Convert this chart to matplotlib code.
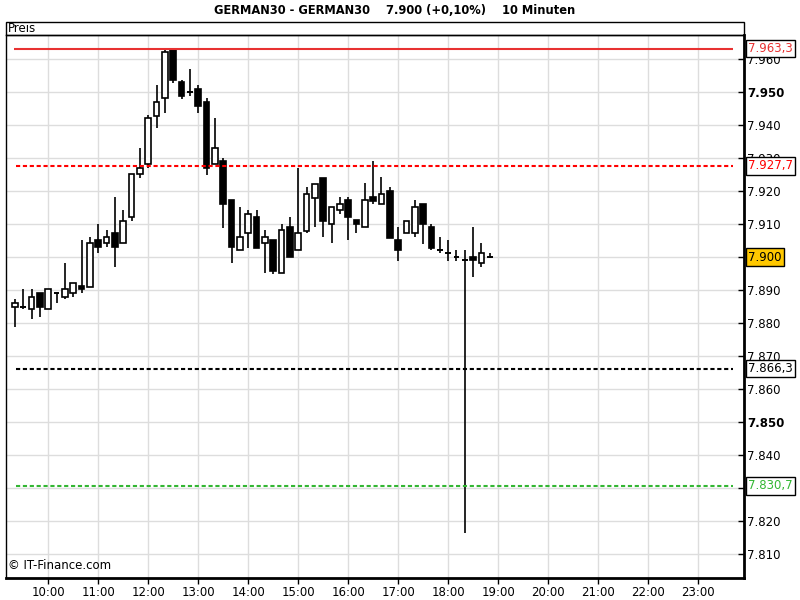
import matplotlib
matplotlib.use("Agg")
import matplotlib.pyplot as plt
from matplotlib.patches import Rectangle

plt.rcParams['font.family'] = ['DejaVu Sans']

times = ["09:20", "09:30", "09:40", "09:50", "10:00", "10:10", "10:20", "10:30", "10:40", "10:50",
         "11:00", "11:10", "11:20", "11:30", "11:40", "11:50", "12:00", "12:10", "12:20", "12:30",
         "12:40", "12:50", "13:00", "13:10", "13:20", "13:30", "13:40", "13:50", "14:00", "14:10",
         "14:20", "14:30", "14:40", "14:50", "15:00", "15:10", "15:20", "15:30", "15:40", "15:50",
         "16:00", "16:10", "16:20", "16:30", "16:40", "16:50", "17:00", "17:10", "17:20", "17:30",
         "17:40", "17:50", "18:00", "18:10", "18:20", "18:30", "18:40", "18:50"]

opens = [7885.0, 7885.0, 7884.2, 7889.1, 7884.2, 7889.1, 7888.1, 7889.1, 7891.3, 7891.1,
         7905.2, 7904.2, 7907.3, 7904.2, 7912.1, 7925.2, 7928.2, 7942.9, 7948.2, 7963.3,
         7953.2, 7950.0, 7951.0, 7947.0, 7928.2, 7929.2, 7917.4, 7902.2, 7907.3, 7912.1,
         7904.2, 7905.2, 7895.2, 7909.1, 7902.2, 7908.1, 7918.1, 7924.2, 7910.0, 7914.3,
         7917.4, 7911.3, 7909.1, 7918.2, 7916.1, 7920.1, 7905.2, 7907.3, 7907.3, 7916.2,
         7909.1, 7902.2, 7901.2, 7900.2, 7899.2, 7900.2, 7898.2, 7900.0]
highs = [7887.3, 7890.3, 7890.3, 7889.1, 7890.3, 7889.1, 7898.2, 7892.1, 7905.2, 7906.1,
         7910.1, 7908.3, 7918.2, 7914.3, 7925.2, 7933.0, 7943.1, 7952.2, 7963.3, 7963.3,
         7953.9, 7957.0, 7952.2, 7948.2, 7942.1, 7930.0, 7917.4, 7915.2, 7914.3, 7914.3,
         7908.3, 7905.2, 7910.1, 7912.1, 7927.0, 7921.4, 7922.2, 7924.2, 7915.2, 7918.2,
         7918.2, 7911.3, 7922.4, 7929.2, 7924.4, 7921.4, 7909.1, 7911.1, 7917.4, 7916.2,
         7910.1, 7906.1, 7905.2, 7902.2, 7902.2, 7909.1, 7904.2, 7901.2]
lows = [7879.0, 7884.2, 7881.2, 7882.0, 7884.2, 7886.1, 7887.3, 7888.1, 7889.1, 7891.1,
        7901.2, 7903.0, 7897.2, 7904.2, 7911.1, 7924.1, 7927.0, 7939.1, 7943.8, 7952.9,
        7948.0, 7949.0, 7943.8, 7925.0, 7928.2, 7909.0, 7898.2, 7902.2, 7902.9, 7902.9,
        7895.2, 7894.9, 7895.2, 7900.2, 7902.2, 7907.3, 7909.3, 7906.1, 7904.2, 7913.0,
        7905.2, 7907.3, 7909.1, 7916.1, 7916.1, 7905.9, 7899.0, 7907.3, 7906.1, 7904.0,
        7902.2, 7901.2, 7899.0, 7899.0, 7816.4, 7894.1, 7897.2, 7899.8]
closes = [7886.1, 7885.0, 7888.1, 7885.0, 7890.3, 7889.1, 7890.3, 7892.1, 7890.3, 7904.2,
          7903.0, 7906.1, 7903.0, 7911.1, 7925.2, 7927.0, 7942.1, 7947.0, 7962.1, 7953.7,
          7949.0, 7950.0, 7945.9, 7927.0, 7933.0, 7916.1, 7903.0, 7906.1, 7913.0, 7902.9,
          7906.1, 7896.0, 7908.3, 7900.2, 7907.3, 7919.1, 7922.2, 7911.1, 7915.2, 7916.2,
          7912.1, 7910.0, 7917.4, 7917.2, 7919.1, 7905.9, 7902.2, 7911.1, 7915.2, 7910.0,
          7902.9, 7902.2, 7901.2, 7900.2, 7899.2, 7899.2, 7901.2, 7900.0]

level_values = [7963.3, 7927.7, 7866.3, 7830.7]
level_labels = ["7.963,3", "7.927,7", "7.866,3", "7.830,7"]
level_colors = ["#e83232", "#ff0000", "#000000", "#33b633"]
level_styles = ["solid", "dashed", "dashed", "dashed"]

last_price = 7900.0
last_label = "7.900"

hour_ticks = [10, 11, 12, 13, 14, 15, 16, 17, 18, 19, 20, 21, 22, 23]
hour_labels = ["10:00", "11:00", "12:00", "13:00", "14:00", "15:00", "16:00",
               "17:00", "18:00", "19:00", "20:00", "21:00", "22:00", "23:00"]
price_ticks = [7810, 7820, 7830, 7840, 7850, 7860, 7870, 7880, 7890, 7900,
               7910, 7920, 7930, 7940, 7950, 7960]
hidden_tick_labels = [7830, 7900]   # fully covered by value boxes in the reference

title = "GERMAN30 - GERMAN30    7.900 (+0,10%)    10 Minuten"

W, H = 800, 600
fig = plt.figure(figsize=(8, 6), dpi=100)
ax_l, ax_r, ax_t, ax_b = 6, 744, 35, 578
ax = fig.add_axes([ax_l / W, (H - ax_b) / H, (ax_r - ax_l) / W, (ax_b - ax_t) / H])

x = [int(t[:2]) + int(t[3:]) / 60 for t in times]
slot = 10 / 60
bw = slot * 0.68

ax.set_xlim(9.154, 23.92)
ax.set_ylim(7802.8, 7967.4)

# grid
for h in hour_ticks:
    ax.axvline(h, color="#dddddd", lw=1, zorder=0)
for p in price_ticks:
    ax.axhline(p, color="#dddddd", lw=1, zorder=0)

# candles
for xi, o, hi, lo, c in zip(x, opens, highs, lows, closes):
    ax.vlines(xi, lo, hi, color="black", lw=1.2, zorder=2)
    if abs(c - o) < 0.05:
        ax.hlines(o, xi - bw / 2, xi + bw / 2, color="black", lw=1.4, zorder=3)
    else:
        fc = "white" if c > o else "black"
        ax.add_patch(Rectangle((xi - bw / 2, min(o, c)), bw, abs(c - o),
                               facecolor=fc, edgecolor="black", lw=1.2, zorder=3))

# levels
x_start = [9.31, 9.36, 9.36, 9.36]
for v, col, st, xs in zip(level_values, level_colors, level_styles, x_start):
    if st == "solid":
        ax.hlines(v, xs, 23.70, color=col, lw=1.5, zorder=4)
    else:
        ax.hlines(v, xs, 23.70, color=col, lw=1.5, linestyles=(0, (2.0, 1.3)), zorder=4)

# spines
for s in ["left", "top"]:
    ax.spines[s].set_linewidth(1.0)
for s in ["right", "bottom"]:
    ax.spines[s].set_linewidth(2.0)

ax.set_xticks(hour_ticks)
ax.set_xticklabels(hour_labels)
ax.tick_params(axis="x", direction="out", length=4, width=1, pad=2, labelsize=8.5)

ax.yaxis.tick_right()
ax.set_yticks(price_ticks)
ax.set_yticklabels(["" if p in hidden_tick_labels else f"{p / 1000:.3f}" for p in price_ticks])
for lab, p in zip(ax.get_yticklabels(), price_ticks):
    if p % 50 == 0:
        lab.set_fontweight("bold")
ax.tick_params(axis="y", direction="in", length=4, width=1, pad=2, labelsize=8.5)

# level labels
for v, lab, col in zip(level_values, level_labels, level_colors):
    ax.annotate(lab, xy=(1, v), xycoords=("axes fraction", "data"),
                xytext=(4, 0), textcoords="offset pixels", ha="left", va="center",
                fontsize=8.5, color=col, zorder=10, annotation_clip=False,
                bbox=dict(boxstyle="square,pad=0.2", fc="white", ec="black", lw=1))
ax.annotate(last_label, xy=(1, last_price), xycoords=("axes fraction", "data"),
            xytext=(4, 0), textcoords="offset pixels", ha="left", va="center",
            fontsize=8.5, color="black", zorder=10, annotation_clip=False,
            bbox=dict(boxstyle="square,pad=0.2", fc="#ffc800", ec="black", lw=1))

ax.text(2 / (ax_r - ax_l), 6 / (ax_b - ax_t), "© IT-Finance.com", transform=ax.transAxes,
        ha="left", va="bottom", fontsize=8.5)

# header
fig.add_artist(Rectangle((ax_l / W, (H - ax_t) / H), (ax_r - ax_l) / W, 13.5 / H,
                         fill=False, ec="black", lw=1, transform=fig.transFigure))
fig.text(8 / W, (H - 28.5) / H, "Preis", ha="left", va="center", fontsize=8.5)
fig.text(395 / W, (H - 10) / H, title, ha="center", va="center", fontsize=8.3,
         fontweight="bold")

fig.savefig("out.png", dpi=100)
